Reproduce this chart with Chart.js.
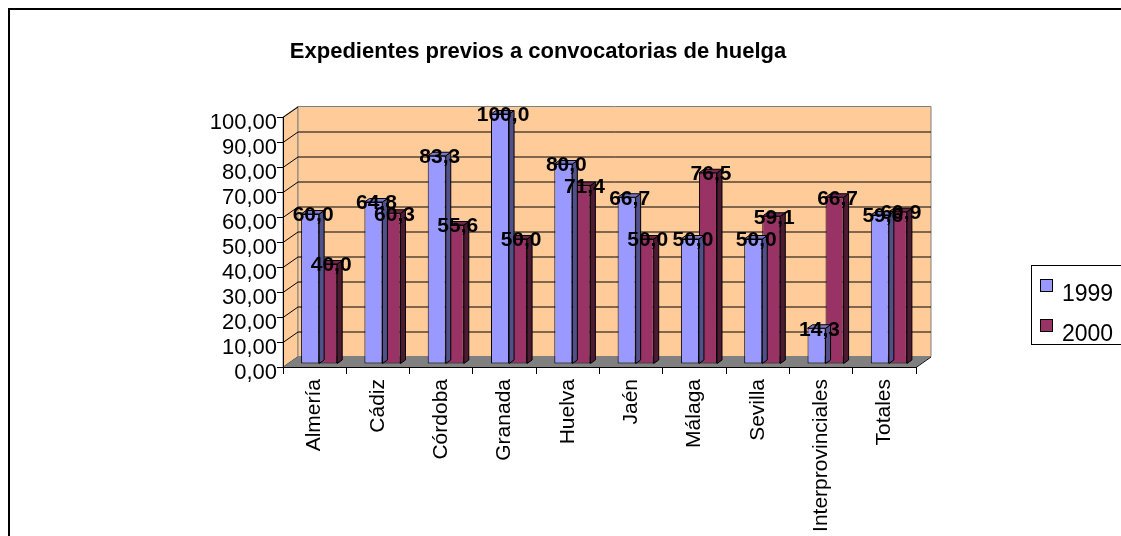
<!DOCTYPE html>
<html>
<head>
<meta charset="utf-8">
<script src="https://cdn.jsdelivr.net/npm/chart.js@4/dist/chart.umd.min.js"></script>
<style>
  html, body { margin: 0; padding: 0; background: #ffffff; }
  canvas { display: block; }
</style>
</head>
<body>
<canvas id="chart" width="1121" height="536"></canvas>
<script>
// Expedientes previos a convocatorias de huelga, 1999 vs 2000 (%)
const categories = ['Almería', 'Cádiz', 'Córdoba', 'Granada', 'Huelva', 'Jaén', 'Málaga', 'Sevilla', 'Interprovinciales', 'Totales'];
const values1999 = [60.0, 64.8, 83.3, 100.0, 80.0, 66.7, 50.0, 50.0, 14.3, 59.6];
const values2000 = [40.0, 60.3, 55.6, 50.0, 71.4, 50.0, 76.5, 59.1, 66.7, 60.9];
const seriesNames = ['1999', '2000'];
const chartTitle = 'Expedientes previos a convocatorias de huelga';

const FONT = "'Liberation Sans', Arial, sans-serif";
const WALL = '#FFCC99';
const FLOOR = '#808080';
const EDGE = '#808080';
const faces = [
  { front: '#9999FF', side: '#50508A', top: '#7777C8' },
  { front: '#993366', side: '#4D1A33', top: '#732650' }
];
const DEPTH = { dx: 15, dy: -10.5 };   // wall/floor depth
const BAR_SHIFT = { dx: 4.5, dy: -3 };  // bars sit midway into the floor
const BAR_DEPTH = { dx: 5, dy: -3.5 };

const fmt = (v, d) => v.toFixed(d).replace('.', ',');

const scene3d = {
  id: 'scene3d',
  beforeDraw(chart) {
    const { ctx } = chart;
    ctx.save();
    ctx.fillStyle = '#ffffff';
    ctx.fillRect(0, 0, chart.width, chart.height);
    // outer frame
    ctx.fillStyle = '#000000';
    ctx.fillRect(8, 8, chart.width, 2);
    ctx.fillRect(8, 8, 2, chart.height);
    // title
    ctx.font = 'bold 22px ' + FONT;
    ctx.textAlign = 'center';
    ctx.textBaseline = 'alphabetic';
    ctx.fillText(chartTitle, 538, 58);

    const a = chart.chartArea, ys = chart.scales.y;
    const y0 = ys.getPixelForValue(0), yTop = ys.getPixelForValue(100);
    const { dx, dy } = DEPTH;
    ctx.lineWidth = 1;
    // left wall
    ctx.beginPath();
    ctx.moveTo(a.left, y0); ctx.lineTo(a.left + dx, y0 + dy);
    ctx.lineTo(a.left + dx, yTop + dy); ctx.lineTo(a.left, yTop);
    ctx.closePath();
    ctx.fillStyle = WALL; ctx.fill();
    ctx.strokeStyle = EDGE; ctx.stroke();
    // back wall
    ctx.beginPath();
    ctx.rect(a.left + dx, yTop + dy, a.right - a.left, y0 - yTop);
    ctx.fillStyle = WALL; ctx.fill();
    ctx.strokeStyle = EDGE; ctx.stroke();
    // gridlines on walls
    ctx.strokeStyle = '#000000';
    ys.ticks.forEach(t => {
      const y = ys.getPixelForValue(t.value);
      ctx.beginPath();
      ctx.moveTo(a.left, y + 0.5); ctx.lineTo(a.left + dx, y + dy + 0.5);
      if (t.value > 0 && t.value < 100) ctx.lineTo(a.right + dx, y + dy + 0.5);
      ctx.stroke();
    });
    // floor
    ctx.beginPath();
    ctx.moveTo(a.left, y0); ctx.lineTo(a.left + dx, y0 + dy);
    ctx.lineTo(a.right + dx, y0 + dy); ctx.lineTo(a.right, y0);
    ctx.closePath();
    ctx.fillStyle = FLOOR; ctx.fill();
    ctx.strokeStyle = '#000000';
    ctx.beginPath();
    ctx.moveTo(a.right, y0 + 0.5); ctx.lineTo(a.right + dx, y0 + dy + 0.5);
    ctx.stroke();
    ctx.restore();
  },
  beforeDatasetsDraw(chart) {
    chart.ctx.save();
    chart.ctx.translate(BAR_SHIFT.dx, BAR_SHIFT.dy);
  },
  afterDatasetDraw(chart, args) {
    const { ctx } = chart;
    const f = faces[args.index];
    const { dx, dy } = BAR_DEPTH;
    ctx.save();
    ctx.lineWidth = 1;
    ctx.strokeStyle = '#000000';
    args.meta.data.forEach(el => {
      const p = el.getProps(['x', 'y', 'base', 'width'], true);
      const l = p.x - p.width / 2, r = p.x + p.width / 2;
      // side face
      ctx.beginPath();
      ctx.moveTo(r, p.y); ctx.lineTo(r + dx, p.y + dy);
      ctx.lineTo(r + dx, p.base + dy); ctx.lineTo(r, p.base);
      ctx.closePath();
      ctx.fillStyle = f.side; ctx.fill(); ctx.stroke();
      // top face
      ctx.beginPath();
      ctx.moveTo(l, p.y); ctx.lineTo(l + dx, p.y + dy);
      ctx.lineTo(r + dx, p.y + dy); ctx.lineTo(r, p.y);
      ctx.closePath();
      ctx.fillStyle = f.top; ctx.fill(); ctx.stroke();
    });
    ctx.restore();
  },
  afterDatasetsDraw(chart) {
    const { ctx } = chart;
    ctx.font = 'bold 21px ' + FONT;
    ctx.fillStyle = '#000000';
    ctx.textAlign = 'center';
    ctx.textBaseline = 'middle';
    chart.data.datasets.forEach((ds, i) => {
      chart.getDatasetMeta(i).data.forEach((el, j) => {
        const p = el.getProps(['x', 'y'], true);
        ctx.fillText(fmt(ds.data[j], 1), p.x + 3, p.y + 1.5);
      });
    });
    ctx.restore();
  },
  afterDraw(chart) {
    const { ctx } = chart;
    ctx.save();
    // legend
    ctx.strokeStyle = '#000000';
    ctx.lineWidth = 1;
    ctx.fillStyle = '#ffffff';
    ctx.fillRect(1031, 265, 100, 79);
    ctx.strokeRect(1031.5, 265.5, 100, 79);
    const rows = [286, 326];
    seriesNames.forEach((name, i) => {
      ctx.fillStyle = faces[i].front;
      ctx.fillRect(1040, rows[i] - 7, 13, 13);
      ctx.strokeRect(1040.5, rows[i] - 6.5, 12, 12);
      ctx.fillStyle = '#000000';
      ctx.font = '23px ' + FONT;
      ctx.textAlign = 'left';
      ctx.textBaseline = 'middle';
      ctx.fillText(name, 1062, rows[i] + 9);
    });
    ctx.restore();
  }
};

new Chart(document.getElementById('chart'), {
  type: 'bar',
  data: {
    labels: categories,
    datasets: [
      { label: seriesNames[0], data: values1999, backgroundColor: faces[0].front },
      { label: seriesNames[1], data: values2000, backgroundColor: faces[1].front }
    ]
  },
  options: {
    responsive: false,
    animation: false,
    events: [],
    layout: { padding: { top: 117, right: 205, left: 0, bottom: 0 } },
    datasets: {
      bar: {
        borderColor: '#000000',
        borderWidth: 1,
        borderSkipped: false,
        categoryPercentage: 0.57,
        barPercentage: 1.0
      }
    },
    plugins: {
      legend: { display: false },
      title: { display: false },
      tooltip: { enabled: false }
    },
    scales: {
      y: {
        min: 0,
        max: 100,
        afterFit(scale) { scale.width = 283; },
        ticks: {
          stepSize: 10,
          autoSkip: false,
          color: '#000000',
          font: { family: FONT, size: 22 },
          padding: 0,
          labelOffset: 6,
          callback: v => fmt(v, 2)
        },
        grid: { drawOnChartArea: false, drawTicks: true, tickLength: 6, color: '#000000' },
        border: { display: true, color: '#000000', width: 1 }
      },
      x: {
        afterFit(scale) { scale.height = 169; },
        ticks: {
          color: '#000000',
          font: { family: FONT, size: 21 },
          minRotation: 90,
          maxRotation: 90,
          autoSkip: false,
          padding: 5
        },
        grid: { offset: true, drawOnChartArea: false, drawTicks: true, tickLength: 7, color: '#000000' },
        border: { display: true, color: '#000000', width: 1 }
      }
    }
  },
  plugins: [scene3d]
});
</script>
</body>
</html>
